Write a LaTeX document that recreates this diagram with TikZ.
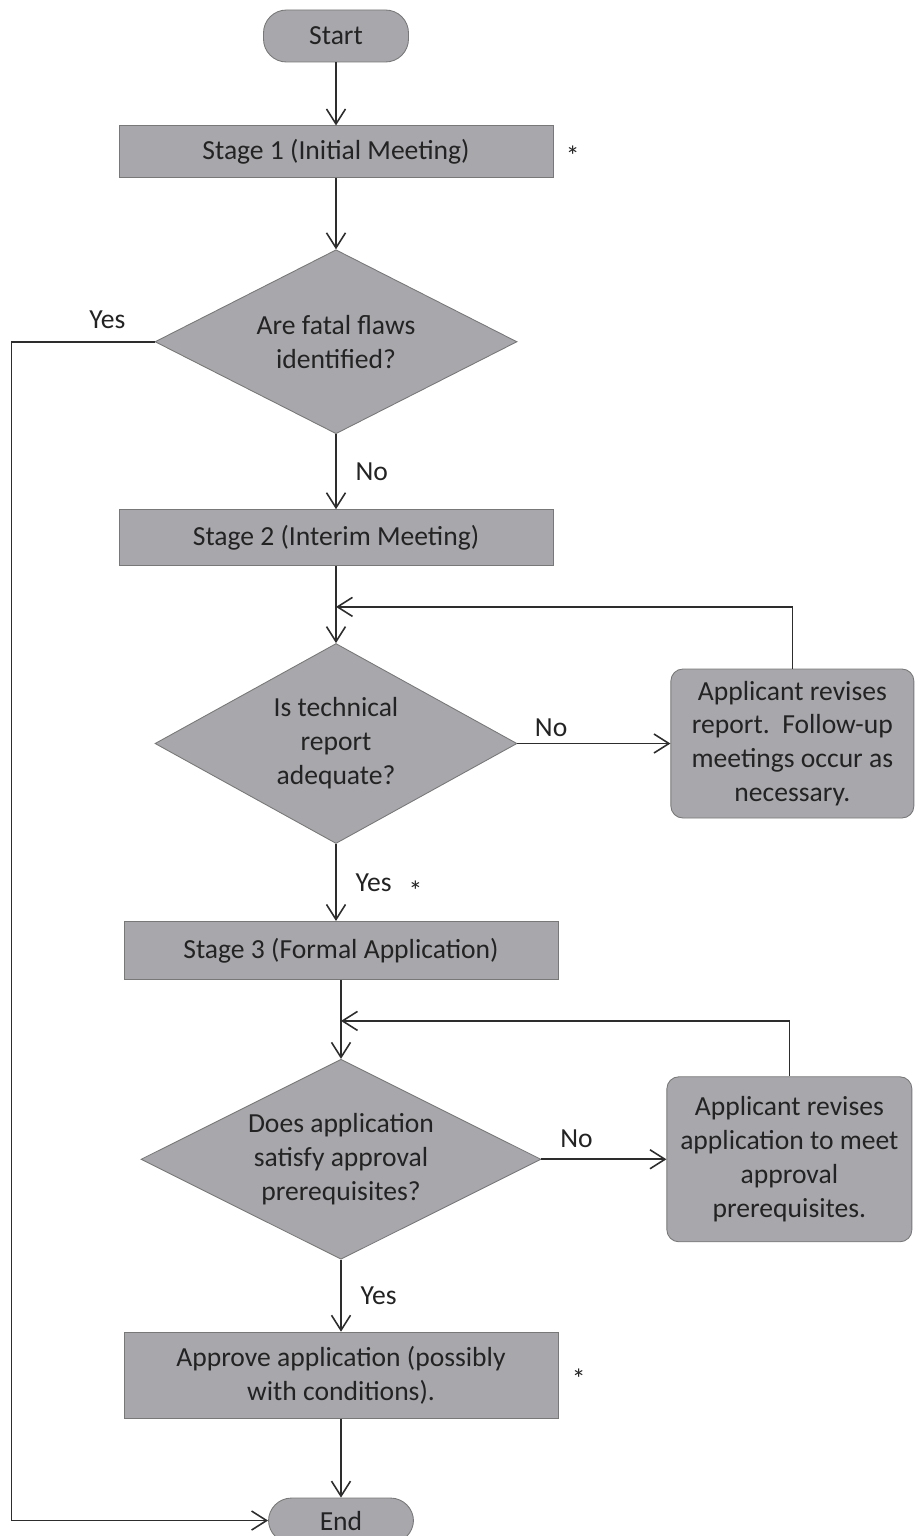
\documentclass[tikz,border=0pt]{standalone}
\usepackage{fontspec}
\setmainfont{Carlito}
\usetikzlibrary{positioning, arrows.meta, shapes.geometric, calc}
\definecolor{boxgray}{RGB}{168,167,172}
\definecolor{edgegray}{RGB}{120,120,120}
\definecolor{linegray}{RGB}{45,45,45}
\definecolor{txtgray}{RGB}{35,35,35}

\begin{document}
\begin{tikzpicture}[
    every node/.style={font=\fontsize{15.7pt}{19.3pt}\selectfont, text=txtgray},
    term/.style={draw=edgegray, line width=0.5pt, fill=boxgray, rounded corners=0.46cm, minimum width=2.9cm, minimum height=1.04cm},
    stagebox/.style={draw=edgegray, line width=0.5pt, fill=boxgray, minimum width=8.68cm, align=center},
    decision/.style={draw=edgegray, line width=0.5pt, fill=boxgray, diamond, aspect=2.2, inner sep=0pt, align=center},
    revise/.style={draw=edgegray, line width=0.5pt, fill=boxgray, rounded corners=0.24cm, align=center},
    starmark/.style={inner sep=0pt},
    arr/.style={-{Straight Barb[length=3mm, width=3.8mm]}, draw=linegray, line width=0.9pt}
]
    \useasboundingbox (0,0) rectangle (18.3,-30.72);

    \node[term] (start) at (6.72,-0.72) {Start};
    \node[stagebox, minimum height=1.04cm] (stage1) [below=1.26cm of start] {Stage 1 (Initial Meeting)};
    \node[decision, minimum width=7.24cm, minimum height=3.68cm] (fatal) [below=1.42cm of stage1] {Are fatal flaws\\identified?};
    \node[stagebox, minimum height=1.12cm] (stage2) [below=1.5cm of fatal] {Stage 2 (Interim Meeting)};
    \node[decision, minimum width=7.24cm, minimum height=4cm] (report) [below=1.54cm of stage2] {Is technical\\report\\adequate?};
    \node[revise, minimum width=4.86cm, minimum height=2.98cm] (revreport) [right=3.06cm of report] {Applicant revises\\report.\ \ Follow-up\\meetings occur as\\necessary.};
    \node[stagebox, minimum height=1.16cm] (stage3) [below=1.54cm of report, xshift=0.1cm] {Stage 3 (Formal Application)};
    \node[decision, minimum width=8cm, minimum height=4cm] (satisfy) [below=1.58cm of stage3] {Does application\\satisfy approval\\prerequisites?};
    \node[revise, minimum width=4.9cm, minimum height=3.3cm] (revapp) [right=2.5cm of satisfy] {Applicant revises\\application to meet\\approval\\prerequisites.};
    \node[stagebox, minimum height=1.72cm] (approve) [below=1.44cm of satisfy] {Approve application (possibly\\with conditions).};
    \node[term, minimum height=0.9cm] (end) [below=1.58cm of approve] {End};

    \node[starmark] (star1) [right=0.24cm of stage1, yshift=-0.08cm] {*};
    \node[starmark] (star3) [right=0.26cm of approve, yshift=-0.08cm] {*};

    \coordinate (loop1) at ($(stage2.south)!0.53!(report.north)$);
    \coordinate (loop2) at ($(stage3.south)!0.52!(satisfy.north)$);

    \draw[arr] (start) -- (stage1);
    \draw[arr] (stage1) -- (fatal);
    \draw[arr] (fatal) -- node[right=0.26cm] {No} (stage2);
    \draw[arr] (fatal.west) -- node[above=0.12cm, pos=0.33] {Yes} ++(-2.86,0) |- (end.west);
    \draw[arr] (stage2) -- (report);
    \draw[arr] (report) -- node[above, pos=0.22] {No} (revreport);
    \draw[arr] (revreport.north) |- (loop1);
    \draw[arr] (report.south) -- node[right=0.26cm] (yes2) {Yes} (report.south |- stage3.north);
    \node[starmark] (star2) [right=0.2cm of yes2, yshift=-0.16cm] {*};
    \draw[arr] (stage3) -- (satisfy);
    \draw[arr] (satisfy) -- node[above=0.1cm, pos=0.28] {No} (revapp);
    \draw[arr] (revapp.north) |- (loop2);
    \draw[arr] (satisfy) -- node[right=0.26cm] {Yes} (approve);
    \draw[arr] (approve) -- (end);
\end{tikzpicture}
\end{document}
